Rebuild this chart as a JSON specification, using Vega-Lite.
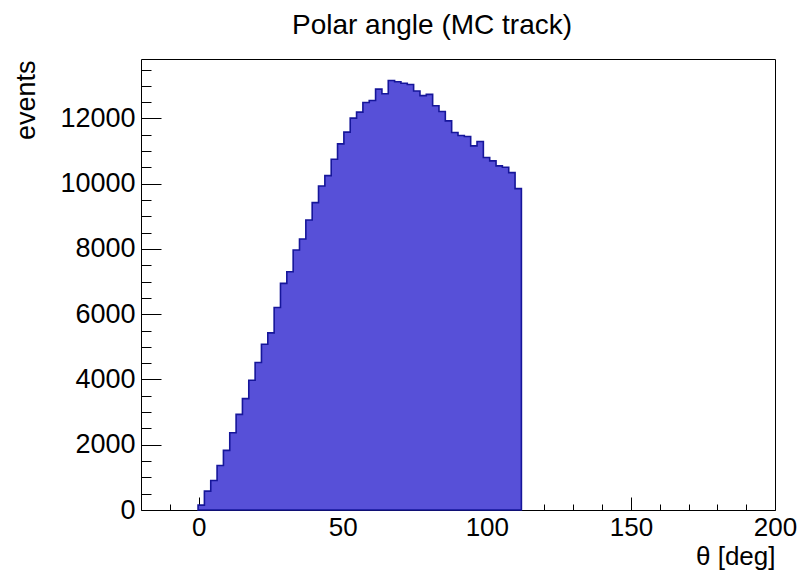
{
  "$schema": "https://vega.github.io/schema/vega-lite/v6.json",
  "autosize": "none",
  "width": 634,
  "height": 451,
  "padding": {"left": 141, "top": 59, "right": 25, "bottom": 62},
  "background": "white",
  "config": {
    "view": {"stroke": "black", "strokeWidth": 1},
    "font": "Liberation Sans",
    "axis": {"grid": false, "domain": false, "tickColor": "black", "tickWidth": 1, "labelColor": "black", "titleColor": "black", "titleFontWeight": "normal", "labelFont": "Liberation Sans", "titleFont": "Liberation Sans"}
  },
  "title": {
    "text": "Polar angle (MC track)",
    "font": "Liberation Sans",
    "fontSize": 28,
    "fontWeight": "normal",
    "color": "black",
    "anchor": "middle",
    "baseline": "alphabetic",
    "dx": -26,
    "dy": 27,
    "offset": 24
  },
  "data": {
    "values": [
      {"lo": -0.2, "hi": 2.0, "events": 150},
      {"lo": 2.0, "hi": 4.2, "events": 577},
      {"lo": 4.2, "hi": 6.4, "events": 906},
      {"lo": 6.4, "hi": 8.6, "events": 1366},
      {"lo": 8.6, "hi": 10.8, "events": 1827},
      {"lo": 10.8, "hi": 13.0, "events": 2370},
      {"lo": 13.0, "hi": 15.2, "events": 2932},
      {"lo": 15.2, "hi": 17.4, "events": 3414},
      {"lo": 17.4, "hi": 19.6, "events": 3976},
      {"lo": 19.6, "hi": 21.8, "events": 4520},
      {"lo": 21.8, "hi": 24.0, "events": 5081},
      {"lo": 24.0, "hi": 26.2, "events": 5429},
      {"lo": 26.2, "hi": 28.4, "events": 6208},
      {"lo": 28.4, "hi": 30.6, "events": 6945},
      {"lo": 30.6, "hi": 32.8, "events": 7302},
      {"lo": 32.8, "hi": 35.0, "events": 7967},
      {"lo": 35.0, "hi": 37.2, "events": 8305},
      {"lo": 37.2, "hi": 39.4, "events": 8889},
      {"lo": 39.4, "hi": 41.6, "events": 9420},
      {"lo": 41.6, "hi": 43.8, "events": 9932},
      {"lo": 43.8, "hi": 46.0, "events": 10249},
      {"lo": 46.0, "hi": 48.2, "events": 10752},
      {"lo": 48.2, "hi": 50.4, "events": 11222},
      {"lo": 50.4, "hi": 52.6, "events": 11581},
      {"lo": 52.6, "hi": 54.8, "events": 12011},
      {"lo": 54.8, "hi": 57.0, "events": 12195},
      {"lo": 57.0, "hi": 59.2, "events": 12490},
      {"lo": 59.2, "hi": 61.4, "events": 12552},
      {"lo": 61.4, "hi": 63.6, "events": 12901},
      {"lo": 63.6, "hi": 65.8, "events": 12757},
      {"lo": 65.8, "hi": 68.0, "events": 13166},
      {"lo": 68.0, "hi": 70.2, "events": 13125},
      {"lo": 70.2, "hi": 72.4, "events": 13080},
      {"lo": 72.4, "hi": 74.6, "events": 13043},
      {"lo": 74.6, "hi": 76.8, "events": 12840},
      {"lo": 76.8, "hi": 79.0, "events": 12700},
      {"lo": 79.0, "hi": 81.2, "events": 12740},
      {"lo": 81.2, "hi": 83.4, "events": 12389},
      {"lo": 83.4, "hi": 85.6, "events": 12214},
      {"lo": 85.6, "hi": 87.8, "events": 11928},
      {"lo": 87.8, "hi": 90.0, "events": 11569},
      {"lo": 90.0, "hi": 92.2, "events": 11477},
      {"lo": 92.2, "hi": 94.4, "events": 11446},
      {"lo": 94.4, "hi": 96.6, "events": 11161},
      {"lo": 96.6, "hi": 98.8, "events": 11293},
      {"lo": 98.8, "hi": 101.0, "events": 10802},
      {"lo": 101.0, "hi": 103.2, "events": 10700},
      {"lo": 103.2, "hi": 105.4, "events": 10547},
      {"lo": 105.4, "hi": 107.6, "events": 10506},
      {"lo": 107.6, "hi": 109.8, "events": 10341},
      {"lo": 109.8, "hi": 112.0, "events": 9850}
    ]
  },
  "transform": [{"fold": ["lo", "hi"], "as": ["edge", "theta"]}],
  "layer": [
    {
      "mark": {"type": "area", "interpolate": "linear", "color": "#5750d8", "fillOpacity": 1, "stroke": "#16169a", "strokeWidth": 1.6},
      "encoding": {
        "x": {
          "field": "theta", "type": "quantitative",
          "scale": {"domain": [-20, 200], "nice": false, "zero": false},
          "axis": {
            "orient": "bottom",
            "values": [0, 50, 100, 150, 200],
            "tickSize": -13,
            "labelPadding": 17,
            "labelFontSize": 26,
            "labelFlush": false,
            "labelOverlap": false,
            "title": "θ [deg]",
            "titleFontSize": 26,
            "titleAnchor": "end",
            "titleAlign": "right",
            "titleBaseline": "middle",
            "titleX": 634,
            "titleY": 46
          }
        },
        "y": {
          "field": "events", "type": "quantitative",
          "stack": null,
          "scale": {"domain": [0, 13823], "nice": false, "zero": true},
          "axis": {
            "orient": "left",
            "values": [0, 2000, 4000, 6000, 8000, 10000, 12000],
            "format": "d",
            "tickSize": -20,
            "labelPadding": 26,
            "labelFontSize": 27,
            "labelFlush": false,
            "labelOverlap": false,
            "title": "events",
            "titleFontSize": 27,
            "titleAngle": -90,
            "titleAlign": "right",
            "titleBaseline": "middle",
            "titleX": -115,
            "titleY": 1
          }
        }
      }
    },
    {
      "mark": {"type": "point", "opacity": 0},
      "encoding": {
        "x": {
          "field": "theta", "type": "quantitative",
          "axis": {
            "orient": "bottom",
            "values": [-10, 10, 20, 30, 40, 60, 70, 80, 90, 110, 120, 130, 140, 160, 170, 180, 190],
            "tickSize": -6,
            "labels": false,
            "title": null
          }
        },
        "y": {
          "field": "events", "type": "quantitative",
          "axis": {
            "orient": "left",
            "values": [500, 1000, 1500, 2500, 3000, 3500, 4500, 5000, 5500, 6500, 7000, 7500, 8500, 9000, 9500, 10500, 11000, 11500, 12500, 13000, 13500],
            "tickSize": -10,
            "labels": false,
            "title": null
          }
        }
      }
    }
  ],
  "resolve": {"axis": {"x": "independent", "y": "independent"}}
}
